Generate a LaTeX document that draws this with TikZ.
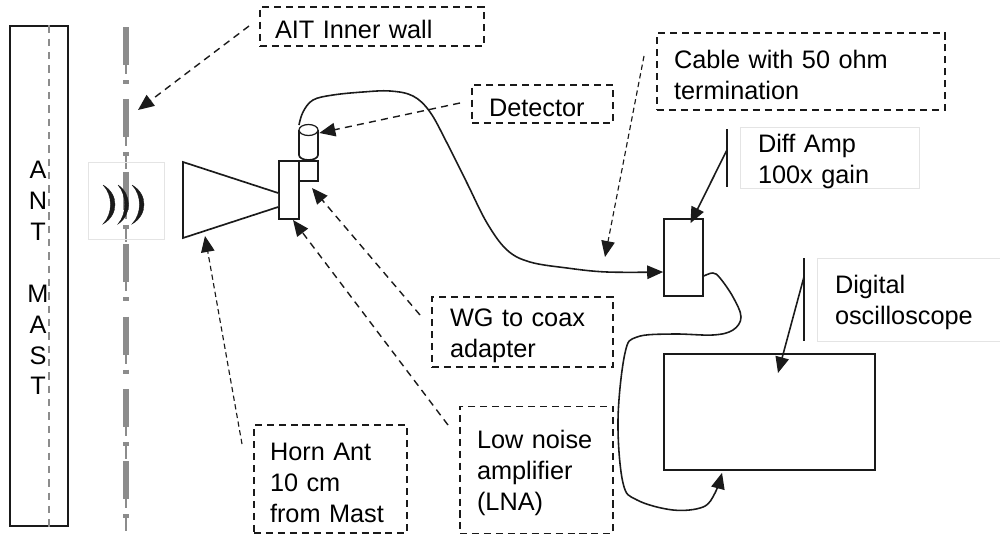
\documentclass[tikz,border=0pt]{standalone}
\usepackage{xcolor}
\usepackage{fontspec}
\setmainfont{Liberation Sans}
\usetikzlibrary{arrows.meta,positioning,calc}
\definecolor{ink}{HTML}{1A1A1A}
\definecolor{wallgray}{HTML}{8C8C8C}
\definecolor{faint}{HTML}{E4E4E4}

\begin{document}
\begin{tikzpicture}[
  x=0.02cm,y=-0.02cm,
  font=\fontsize{14.4}{17.6}\selectfont,
  body/.style={rectangle,draw=ink,fill=white,line width=0.95pt,inner sep=0pt},
  dbox/.style={rectangle,draw=ink,line width=0.75pt,dash pattern=on 4pt off 2.8pt,align=left,inner xsep=0pt,inner ysep=0pt,
               execute at begin node={\rule{0pt}{14pt}}},
  gbox/.style={rectangle,draw=faint,line width=0.5pt,align=left,inner xsep=0pt,inner ysep=0pt,
               execute at begin node={\rule{0pt}{14pt}}},
  arr/.style={-{Stealth[length=3.2mm,width=2.7mm,inset=0pt]},draw=ink,line width=0.9pt},
  darr/.style={-{Stealth[length=3.2mm,width=2.7mm,inset=0pt]},draw=ink,line width=0.8pt,dash pattern=on 4pt off 3pt},
  thindarr/.style={darr,line width=0.65pt,dash pattern=on 3pt off 2pt},
  wave/.style={fill=ink,draw=ink,line width=0.2pt}
]
\useasboundingbox (0,0) rectangle (1000,534);

\node[body,minimum width=1.16cm,minimum height=10cm,align=center] (mast) at (39,276) {};
\node[align=center,inner sep=0pt] (mastlbl) at (38,278) {A\\N\\T\\ \\M\\A\\S\\T};
\draw[wallgray,line width=0.9pt,dash pattern=on 4.2pt off 3.4pt] (mast.north -| 49,0) -- (mast.south -| 49,0);

\foreach \k/\t in {0/0,1/1,2/1,3/0,4/0,5/1,6/1}{
  \pgfmathsetmacro{\ya}{27+72.4*\k}
  \draw[wallgray,line width=3pt] (126,\ya) -- (126,\ya+38);
  \draw[wallgray,line width=1pt] (126,\ya+38) -- (126,\ya+47);
  \draw[wallgray,line width=3pt] (126,\ya+53) -- (126,\ya+57);
  \ifnum\t=1
    \draw[wallgray,line width=1pt] (126,\ya+57) -- (126,\ya+70);
  \fi
}

\node[gbox,minimum width=1.52cm,minimum height=1.54cm] (wavebox) at (126,200.5) {};
\fill[wave] (103,185) .. controls (119,194) and (119,215) .. (103,224) .. controls (113,214) and (113,195) .. (103,185);
\fill[wave] (118,185) .. controls (132,194) and (132,215) .. (118,224) .. controls (127,214) and (127,195) .. (118,185);
\fill[wave] (132,185) .. controls (148,194) and (148,215) .. (132,224) .. controls (142,214) and (142,195) .. (132,185);

\node[body,minimum width=0.4cm,minimum height=1.16cm] (lna) at (289,190) {};
\node[body,minimum width=0.38cm,minimum height=0.4cm] (adapter) at (308.5,171) {};
\node[inner sep=0pt,minimum width=0.38cm,minimum height=0.72cm] (det) at (308.5,143) {};
\draw[body] (299,130) -- (299,155) arc[start angle=180,end angle=360,x radius=0.19cm,y radius=0.1cm] -- (318,130);
\draw[body,line width=0.7pt] (308.5,130) ellipse[x radius=0.19cm,y radius=0.11cm];
\draw[body] ([yshift=-0.06cm]lna.west) -- (183,162) -- (183,238) -- ([yshift=-0.34cm]lna.west);

\node[body,minimum width=0.78cm,minimum height=1.54cm] (amp) at (683.5,257.5) {};
\node[body,minimum width=4.22cm,minimum height=2.32cm] (scope) at (769.5,412) {};

\node[dbox,minimum width=4.48cm,minimum height=0.78cm,text width=3.88cm] (ait) at (372,26.5) {AIT Inner wall};
\node[dbox,minimum width=2.82cm,minimum height=0.76cm,text width=2.14cm] (detlbl) at (542.5,104) {Detector};
\node[dbox,minimum width=5.76cm,minimum height=1.54cm,text width=5.08cm] (cablelbl) at (801,71.5) {Cable with 50 ohm\\termination};
\node[dbox,minimum width=3.62cm,minimum height=1.4cm,text width=2.9cm] (wglbl) at (522.5,332) {WG to coax\\adapter};
\node[dbox,minimum width=3.06cm,minimum height=2.55cm,text width=2.38cm] (lnalbl) at (536.5,470) {Low noise\\amplifier\\(LNA)};
\node[dbox,minimum width=3.06cm,minimum height=2.16cm,text width=2.42cm] (hornlbl) at (330.5,479) {Horn Ant\\10 cm\\from Mast};
\node[gbox,minimum width=3.58cm,minimum height=1.16cm,text width=2.86cm,execute at begin node={\rule{0pt}{13pt}}] (ampbox) at (829.5,158) {Diff Amp\\100x gain};
\node[gbox,minimum width=3.66cm,minimum height=1.66cm,text width=2.94cm] (scopebox) at (908.5,299.5) {Digital\\oscilloscope};

\node[inner sep=0pt,minimum height=1.16cm,minimum width=0pt,draw=ink,line width=0.75pt,left=0.24cm of ampbox] (ampbar) {};
\node[inner sep=0pt,minimum height=1.66cm,minimum width=0pt,draw=ink,line width=0.75pt,left=0.24cm of scopebox] (scopebar) {};

\coordinate (wallpt) at (138,110);
\coordinate (aitout) at (249,26);
\coordinate (detout) at (460,103);
\coordinate (cableout) at (644,56);
\coordinate (cablept) at (605,257);
\coordinate (wgout) at (420,315);
\coordinate (wgpt) at (312,188);
\coordinate (lnaout) at (448,425);
\coordinate (lnapt) at (293,220);
\coordinate (hornout) at (242,444);
\coordinate (hornpt) at (205,236);
\coordinate (scopept) at (778,373);

\draw[darr] (aitout) -- (wallpt);
\draw[darr] (detout) -- ([xshift=0.02cm,yshift=0.2cm]det.east);
\draw[thindarr] (cableout) -- (cablept);
\draw[darr] (wgout) -- (wgpt);
\draw[darr] (lnaout) -- (lnapt);
\draw[thindarr] (hornout) -- (hornpt);
\draw[arr] ([yshift=0.16cm]ampbar.center) -- ([xshift=0.14cm,yshift=-0.1cm]amp.north);
\draw[arr] ([yshift=0.45cm]scopebar.center) -- (scopept);

\draw[arr] plot[smooth,tension=0.6] coordinates {(299,125) (303,112) (313,100) (333,95) (363,92) (390,91) (413,96) (430,112) (447,143) (467,183) (487,223) (507,250) (530,262) (567,268) (607,272) ([yshift=-0.29cm]amp.west)};
\draw[arr] plot[smooth,tension=0.6] coordinates {([yshift=-0.37cm]amp.east) (713,273) (720,278) (733,297) (741,317) (733,330) (713,335) (673,334) (637,337) (625,353) (618,420) (623,483) (637,500) (673,510) (703,507) (715,493) ([xshift=-0.95cm,yshift=-0.04cm]scope.south)};
\end{tikzpicture}
\end{document}
